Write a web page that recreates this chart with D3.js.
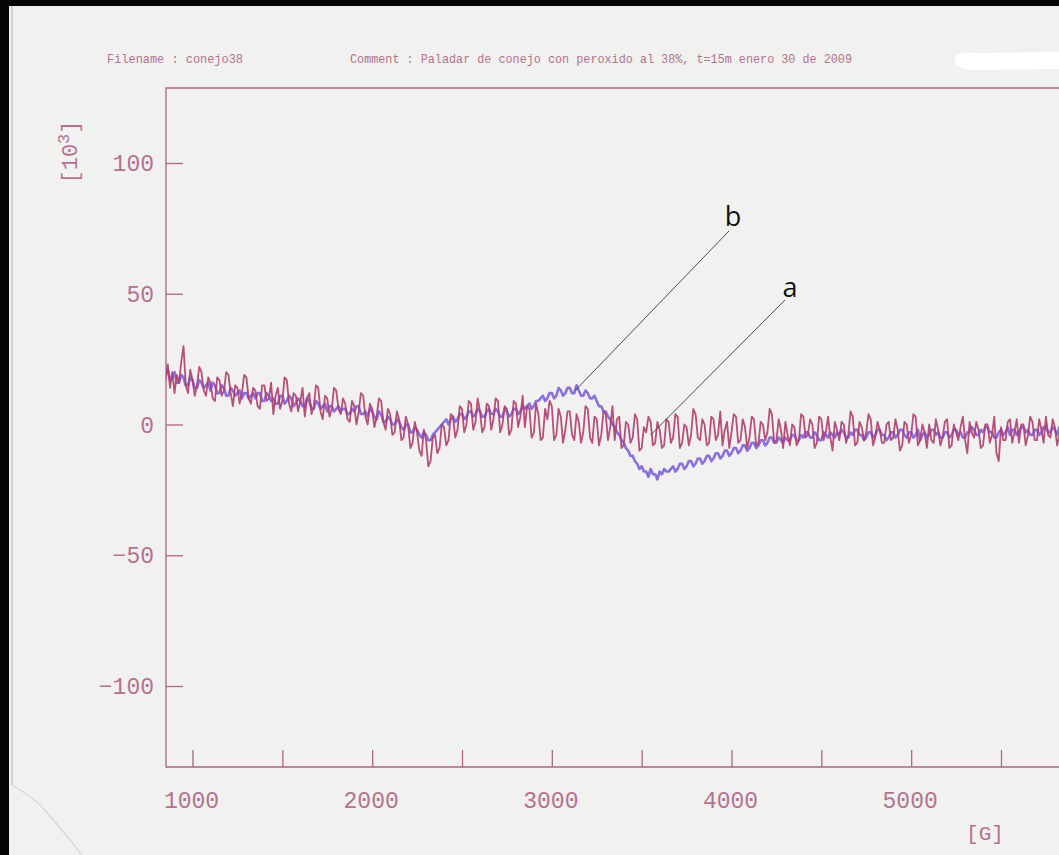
<!DOCTYPE html>
<html>
<head>
<meta charset="utf-8">
<script src="https://cdn.jsdelivr.net/npm/d3@7"></script>
<style>
  html, body { margin: 0; padding: 0; background: #000; }
  svg { display: block; }
</style>
</head>
<body>
<div id="chart"></div>
<script>
// ---------- DATA ----------
const fieldStart = 850;   // G
const fieldStep = 12.5;   // G
// series a (red, noisy) in units of 10^3
const seriesA = [
  17, 23, 14, 20, 12, 19, 16, 24, 30, 15, 12, 21, 17, 11, 15, 22, 20, 13, 11, 18,
  16, 10, 9, 18, 17, 11, 13, 20, 19, 12, 7, 15, 14, 8, 12, 19, 18, 10, 8, 14,
  13, 7, 6, 15, 15, 9, 10, 16, 4, 11, 14, 6, 9, 18, 17, 8, 5, 12, 11, 5,
  9, 14, 3, 10, 12, 4, 7, 15, 14, 5, 2, 11, 10, 3, 6, 14, 13, 6, 4, 10,
  8, 2, 1, 9, 7, 0, 5, 12, 11, 3, 0, 8, 6, -1, 3, 10, 9, 1, -2, 6,
  4, -4, -3, 5, 2, -6, -5, 3, 0, -9, -7, 1, -3, -10, -12, -2, -6, -16, -14, -5,
  -4, -11, -9, 0, -1, -8, -6, 4, 3, -5, -2, 7, 6, -3, 0, 9, 8, -2, 1, 10,
  5, -3, -1, 8, 7, -2, 2, 10, 9, -3, 0, 7, 6, -4, -2, 9, 8, -1, 3, 11,
  -1, 7, 6, -5, -3, 8, 4, -6, -5, 6, 2, 9, 7, -6, -4, 6, 3, -7, -2, 5,
  5, -4, -6, 4, 1, -7, -3, 7, 6, -5, -7, 3, 2, -8, -4, 5, 4, -6, -1, 7,
  -6, 2, 3, -9, -8, 1, 0, -7, -5, 4, 2, -10, -9, -1, -3, 3, 1, -8, -7, 1,
  -2, -9, -8, 2, 1, -7, -5, 4, 3, -9, -7, 0, -1, -8, -4, 6, 4, -5, -6, 2,
  0, -8, -7, 3, 2, -6, -4, 5, -8, -2, 1, -9, -3, 4, 3, -7, -6, 2, -1, -9,
  -5, 3, 2, -8, -7, 1, 0, -6, -3, 6, 4, -7, -6, 2, -2, -9, 1, -4, -8, 0,
  -1, -8, -6, 4, 3, -5, -4, 2, 0, -9, -7, 3, 2, -6, -3, 3, -5, -10, 1, -2,
  -6, 1, 0, -7, -4, 5, 3, -8, -7, 1, -1, -6, -3, 4, 2, -8, -5, 1, -2, -7,
  -7, 0, 1, -6, -5, 2, -2, -10, -8, 1, 0, -7, -4, 4, 3, -8, -6, 0, -3, -9,
  0, -6, -7, 2, -2, -8, -5, 1, 2, -9, -8, 0, -3, -6, -1, 3, -6, -11, 1, -3,
  -5, 1, -2, -9, -8, 0, 0, -7, -4, 3, -11, -14, -1, -6, -6, 1, 2, -7, -3, 2,
  -7, 0, 0, -8, -4, 3, 1, -6, -6, 2, -2, -7, 3, -4, -5, 2, -1, -8, -4, 3,
  -2
];
// series b (violet) in units of 10^3
const seriesB = [
  19, 21, 17, 18, 20, 16, 16, 19, 18, 15, 15, 18, 17, 14, 14, 17, 16, 14, 15, 16,
  13, 16, 15, 12, 12, 15, 14, 11, 11, 14, 13, 11, 12, 13, 10, 12, 12, 10, 11, 12,
  10, 12, 12, 9, 9, 12, 11, 9, 10, 8, 8, 11, 11, 8, 9, 11, 10, 7, 8, 10,
  9, 7, 7, 10, 9, 6, 6, 9, 8, 6, 7, 8, 5, 7, 7, 5, 6, 7, 5, 6,
  6, 4, 4, 6, 5, 7, 7, 4, 4, 5, 3, 6, 5, 3, 2, 5, 4, 1, 1, 3,
  2, 0, 0, 2, 1, -1, -2, 0, 0, -3, -3, -1, -2, -4, -5, -3, -4, -6, -6, -4,
  -3, -2, -1, 0, 1, 2, 0, 2, 3, 1, 2, 4, 4, 2, 3, 5, 5, 3, 4, 6,
  5, 3, 3, 5, 6, 4, 4, 6, 5, 3, 3, 6, 5, 3, 4, 6, 6, 4, 5, 7,
  6, 7, 8, 6, 7, 9, 9, 10, 11, 9, 10, 12, 12, 10, 11, 14, 13, 11, 12, 14,
  14, 12, 12, 15, 13, 11, 11, 13, 12, 10, 10, 11, 9, 7, 7, 5, 5, 3, 2, 0,
  -1, -3, -4, -6, -7, -9, -10, -12, -12, -14, -15, -17, -16, -18, -18, -20, -17, -19, -19, -21,
  -18, -19, -17, -18, -18, -17, -16, -18, -17, -15, -15, -17, -16, -14, -14, -16, -15, -13, -13, -15,
  -14, -12, -12, -14, -13, -11, -11, -13, -12, -10, -10, -12, -11, -9, -9, -11, -10, -8, -8, -10,
  -9, -7, -7, -9, -8, -6, -6, -8, -7, -5, -5, -7, -7, -5, -6, -7, -5, -6, -6, -4,
  -4, -6, -6, -4, -5, -3, -3, -5, -5, -3, -4, -6, -6, -3, -4, -5, -3, -4, -5, -3,
  -4, -2, -3, -5, -5, -3, -4, -2, -2, -4, -4, -6, -5, -3, -3, -5, -4, -2, -2, -4,
  -4, -6, -5, -3, -3, -5, -4, -2, -2, -4, -5, -3, -3, -5, -4, -2, -6, -4, -3, -5,
  -4, -2, -2, -4, -3, -5, -5, -3, -3, -5, -4, -2, -2, -4, -3, -5, -5, -3, -3, -1,
  -2, -4, -4, -2, -3, -1, -1, -3, -3, -5, -5, -3, -2, -4, -3, -1, -4, -2, -2, -4,
  -3, -1, -1, -3, -2, -4, -4, -2, -2, -4, -3, -1, -1, -3, -3, -1, -2, -4, -1, -3,
  -2
];
const xTicks = [1000, 1500, 2000, 2500, 3000, 3500, 4000, 4500, 5000, 5500, 6000];
const xTickLabels = [1000, 2000, 3000, 4000, 5000];
const yTicks = [-100, -50, 0, 50, 100];
const headerFilename = "Filename : conejo38";
const headerComment = "Comment : Paladar de conejo con peroxido al 38%, t=15m enero 30 de 2009";
const xUnit = "[G]";
const annotations = [
  { label: "b", field: 3130, value: 13 },
  { label: "a", field: 3550, value: -4 }
];

// ---------- LAYOUT ----------
const W = 1059, H = 855;
const plotLeft = 166, plotTop = 88, plotBottom = 767, plotRight = 1075;
const axisColor = "#ad6585";
const textColor = "#b5728f";
const monoFont = "'Liberation Mono', 'DejaVu Sans Mono', monospace";

const svg = d3.select("#chart").append("svg")
  .attr("width", W).attr("height", H);

// paper
svg.append("rect").attr("x", 0).attr("y", 0).attr("width", W).attr("height", H).attr("fill", "#f1f1ef");
// scan edges
svg.append("rect").attr("x", 0).attr("y", 0).attr("width", W).attr("height", 6).attr("fill", "#050505");
svg.append("rect").attr("x", 0).attr("y", 0).attr("width", 9).attr("height", H).attr("fill", "#050505");
svg.append("line").attr("x1", 12).attr("x2", 12).attr("y1", 6).attr("y2", 785)
  .attr("stroke", "#c9c9c7").attr("stroke-width", 1.5);
svg.append("path").attr("d", "M12,785 C20,790 30,795 40,805 S70,840 82,855")
  .attr("fill", "none").attr("stroke", "#d6d6d4").attr("stroke-width", 1.2);

// scales
const x = d3.scaleLinear().domain([1000, 5500]).range([192.5, 1001]);
const y = d3.scaleLinear().domain([-100, 100]).range([686, 163]);

// header
svg.append("text").attr("x", 107).attr("y", 63)
  .attr("font-family", monoFont).attr("font-size", 13).attr("fill", textColor)
  .attr("textLength", 136).attr("lengthAdjust", "spacingAndGlyphs")
  .text(headerFilename);
svg.append("text").attr("x", 350).attr("y", 63)
  .attr("font-family", monoFont).attr("font-size", 13).attr("fill", textColor)
  .attr("textLength", 502).attr("lengthAdjust", "spacingAndGlyphs")
  .text(headerComment);
// whited-out patch
svg.append("path").attr("d", "M955,56 Q960,52 980,53 L1059,52 L1059,69 L975,70 Q957,69 955,63 Z")
  .attr("fill", "#ffffff");

// clip for plot
svg.append("clipPath").attr("id", "plotclip").append("rect")
  .attr("x", plotLeft).attr("y", plotTop).attr("width", plotRight - plotLeft).attr("height", plotBottom - plotTop);

// axes frame
const frame = svg.append("g").attr("stroke", axisColor).attr("stroke-width", 1.3).attr("fill", "none");
frame.append("path").attr("d", `M${plotRight},${plotTop} L${plotLeft},${plotTop} L${plotLeft},${plotBottom} L${plotRight},${plotBottom}`);

// y axis ticks (inward)
const yAxis = d3.axisRight(y).tickValues(yTicks).tickSize(17).tickFormat("");
const gy = svg.append("g").attr("transform", `translate(${plotLeft},0)`).call(yAxis);
gy.select(".domain").remove();
gy.selectAll("line").attr("stroke", axisColor).attr("stroke-width", 1.3);
svg.append("g").selectAll("text").data(yTicks).join("text")
  .attr("x", 154).attr("y", d => y(d)).attr("dy", "0.35em")
  .attr("text-anchor", "end")
  .attr("font-family", monoFont).attr("font-size", 23).attr("fill", textColor)
  .text(d => d < 0 ? "\u2212" + Math.abs(d) : d);

// x axis ticks (inward)
const xAxis = d3.axisTop(x).tickValues(xTicks).tickSize(17).tickFormat("");
const gx = svg.append("g").attr("transform", `translate(0,${plotBottom})`).call(xAxis);
gx.select(".domain").remove();
gx.selectAll("line").attr("stroke", axisColor).attr("stroke-width", 1.3);
svg.append("g").selectAll("text").data(xTickLabels).join("text")
  .attr("x", d => x(d) - 1).attr("y", 808)
  .attr("text-anchor", "middle")
  .attr("font-family", monoFont).attr("font-size", 23).attr("fill", textColor)
  .text(d => d);

// units
const yu = svg.append("text").attr("transform", "translate(77,152) rotate(-90)")
  .attr("text-anchor", "middle")
  .attr("font-family", monoFont).attr("font-size", 22).attr("fill", textColor);
yu.append("tspan").text("[10");
yu.append("tspan").attr("dy", -8).attr("font-size", 17).text("3");
yu.append("tspan").attr("dy", 8).text("]");
svg.append("text").attr("x", 985).attr("y", 840).attr("text-anchor", "middle")
  .attr("font-family", monoFont).attr("font-size", 21).attr("fill", textColor)
  .text(xUnit);

// series
const fields = d3.range(seriesA.length).map(i => fieldStart + i * fieldStep);
const line = d3.line().x((d, i) => x(fields[i])).y(d => y(d)).curve(d3.curveLinear);
const plot = svg.append("g").attr("clip-path", "url(#plotclip)");
plot.append("path").datum(seriesB).attr("d", line)
  .attr("fill", "none").attr("stroke", "#8a6fe2").attr("stroke-width", 2.6)
  .attr("stroke-linejoin", "round");
plot.append("path").datum(seriesA).attr("d", line)
  .attr("fill", "none").attr("stroke", "#b03d6e").attr("stroke-width", 1.8)
  .attr("stroke-opacity", 0.9).attr("stroke-linejoin", "round");

// annotations
const annPos = [
  { tx: 733, ty: 226, lx: 729, ly: 231 },
  { tx: 790, ty: 297, lx: 785, ly: 300 }
];
annotations.forEach((a, i) => {
  const p = annPos[i];
  svg.append("line").attr("x1", p.lx).attr("y1", p.ly)
    .attr("x2", x(a.field)).attr("y2", y(a.value))
    .attr("stroke", "#3a3a3a").attr("stroke-width", 0.9);
  svg.append("text").attr("x", p.tx).attr("y", p.ty).attr("text-anchor", "middle")
    .attr("font-family", "'Open Sans', 'Noto Sans', sans-serif").attr("font-size", 27)
    .attr("fill", "#111").text(a.label);
});
</script>
</body>
</html>
